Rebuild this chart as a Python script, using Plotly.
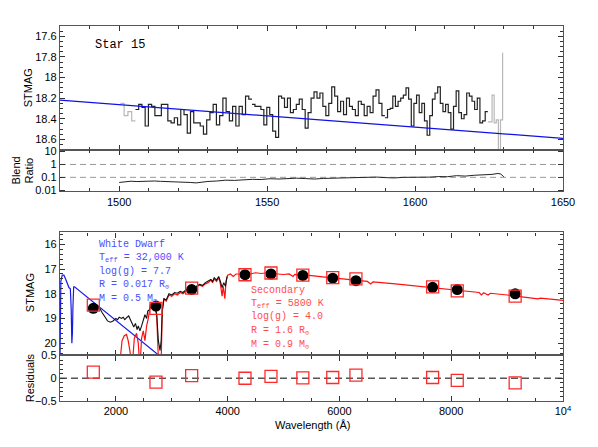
import numpy as np
import plotly.graph_objects as go

# ---- top panel: UV spectrum of Star 15 (STMAG, binned) ----
gray_left = [18.25, 18.37, 18.33, 18.42]
black_a = [18.31, 18.26, 18.29, 18.47, 18.26, 18.28, 18.37, 18.37, 18.26, 18.26, 18.42, 18.44,
           18.39, 18.46, 18.31, 18.36, 18.54, 18.33, 18.44, 18.44, 18.47, 18.55, 18.41, 18.34,
           18.26, 18.46, 18.37, 18.20, 18.33, 18.42, 18.28, 18.47, 18.28, 18.36, 18.18, 18.21]
black_b = [18.26, 18.28, 18.28, 18.31, 18.46, 18.29, 18.36, 18.52, 18.58, 18.18, 18.20, 18.29,
           18.20, 18.34, 18.31, 18.26, 18.21, 18.31, 18.49, 18.34, 18.20, 18.14, 18.20, 18.15,
           18.28, 18.37, 18.25, 18.09, 18.18, 18.33, 18.23, 18.36, 18.20, 18.28, 18.31, 18.37,
           18.23, 18.26, 18.37, 18.28, 18.34, 18.18, 18.12, 18.25, 18.37]
black_c = [18.39, 18.31, 18.30, 18.18, 18.28, 18.23, 18.20, 18.17, 18.10, 18.21, 18.47, 18.25,
           18.17, 18.34, 18.25, 18.42, 18.56, 18.37, 18.21, 18.15, 18.09, 18.25, 18.33, 18.26,
           18.34, 18.50, 18.28, 18.13, 18.34, 18.40, 18.36, 18.15, 18.18, 18.23, 18.31, 18.20,
           18.44, 18.42, 18.33]
gray_right = [18.43, 18.43, 18.17, 18.44, 18.41, 18.75, 18.41, 17.76]
seg_bounds = [1500.4, 1505.5, 1544.9, 1589.8, 1624.6, 1630.3]
uv_fit_wave = [1480, 1650]
uv_fit_mag = [18.22, 18.59]

# blend ratio
ratio_wave = [1500, 1502, 1504, 1506, 1508, 1510, 1512, 1514, 1516, 1518, 1520, 1522, 1524, 1526,
              1528, 1530, 1533, 1536, 1539, 1542, 1545, 1548, 1551, 1554, 1557, 1560, 1563, 1566,
              1569, 1572, 1575, 1578, 1581, 1584, 1587, 1590, 1593, 1596, 1599, 1602, 1605, 1608,
              1611, 1614, 1617, 1620, 1623, 1626, 1628, 1629, 1630]
ratio = [0.040, 0.045, 0.050, 0.047, 0.050, 0.048, 0.052, 0.049, 0.047, 0.050, 0.046, 0.044,
         0.040, 0.037, 0.043, 0.048, 0.052, 0.060, 0.058, 0.065, 0.070, 0.068, 0.078, 0.074,
         0.080, 0.086, 0.080, 0.074, 0.082, 0.085, 0.082, 0.090, 0.088, 0.092, 0.105, 0.095,
         0.090, 0.100, 0.098, 0.110, 0.104, 0.115, 0.112, 0.135, 0.125, 0.145, 0.150, 0.170,
         0.200, 0.180, 0.110]

# ---- bottom panel: SED ----
wd_wave = [1000, 1005, 1015, 1040, 1070, 1100, 1130, 1160, 1185, 1200, 1212, 1222, 1232, 1245,
           1260, 1400, 1600, 1800, 2000, 2200, 2400, 2600, 2800]
wd_mag = [20.8, 18.5, 17.5, 17.25, 17.25, 17.4, 17.6, 17.75, 17.8, 18.6, 20.0, 19.6, 18.5, 17.72,
          17.72, 17.98, 18.35, 18.72, 19.08, 19.45, 19.82, 20.18, 20.55]

sec_wave = [2000, 2080, 2110, 2150, 2190, 2220, 2250, 2290, 2330, 2370, 2400, 2430, 2460, 2490,
            2520, 2550, 2580, 2600, 2620, 2650, 2670, 2700, 2730, 2760, 2790, 2810, 2830, 2860,
            2900, 2950, 3000, 3050, 3100, 3150, 3200, 3250, 3300, 3350, 3400, 3450, 3500, 3550,
            3600, 3650, 3700, 3730, 3760, 3800, 3840, 3870, 3900, 3920, 3950, 3970, 4000, 4050,
            4100, 4150, 4200, 4250, 4300, 4350, 4400, 4500, 4600, 4700, 4800, 4900, 5000, 5100,
            5170, 5200, 5300, 5500, 5700, 5900, 6100, 6300, 6500, 6560, 6600, 7000, 7500, 7700,
            8000, 8300, 8500, 8540, 8580, 8660, 8700, 9000, 9200, 9500, 9550, 9600, 10000]
sec_mag = [21.0, 20.6, 19.9, 19.7, 19.65, 19.9, 20.3, 21.0, 19.8, 19.6, 20.0, 21.0, 19.8, 19.5,
           19.9, 19.3, 19.0, 18.7, 18.4, 18.6, 18.4, 18.5, 18.9, 20.6, 21.0, 20.8, 18.7, 18.2,
           18.3, 18.05, 18.1, 18.0, 18.05, 17.95, 18.0, 17.9, 17.85, 17.8, 17.85, 17.7, 17.65, 17.7,
           17.6, 17.55, 17.45, 17.55, 17.4, 17.5, 17.35, 17.6, 18.1, 17.7, 18.2, 17.5, 17.25, 17.2,
           17.3, 17.2, 17.2, 17.25, 17.35, 17.25, 17.2, 17.15, 17.18, 17.15, 17.18, 17.2, 17.22, 17.2,
           17.3, 17.22, 17.23, 17.27, 17.32, 17.36, 17.41, 17.46, 17.5, 17.6, 17.52, 17.6, 17.71, 17.76,
           17.83, 17.9, 17.95, 18.05, 17.96, 18.05, 17.98, 18.05, 18.1, 18.17, 18.21, 18.18, 18.27]

obs_wave = [1650, 1700, 1750, 1800, 1850, 1900, 1950, 2000, 2030, 2060, 2100, 2130, 2160, 2200,
            2230, 2260, 2290, 2320, 2350, 2380, 2400, 2430, 2460, 2490, 2520, 2550, 2570, 2600,
            2620, 2650, 2680, 2700, 2730, 2760, 2790, 2810, 2830, 2860, 2900, 2950, 3000, 3050,
            3100, 3150, 3200, 3250, 3300, 3350, 3400, 3450, 3500, 3550, 3600, 3650, 3700, 3730,
            3760, 3800, 3840, 3870, 3900, 3930, 3960, 3990]
obs_mag = [18.44, 18.55, 18.75, 18.95, 19.1, 19.15, 19.1, 19.0, 19.05, 18.95, 19.0, 18.95, 19.05,
           18.95, 18.9, 19.05, 19.2, 19.35, 19.2, 19.45, 19.3, 19.5, 19.3, 19.1, 18.85, 19.0, 18.7,
           18.65, 18.5, 18.6, 18.45, 18.55, 18.8, 19.9, 20.3, 19.9, 18.7, 18.2, 18.25, 18.0, 18.05,
           17.95, 17.98, 17.9, 17.95, 17.85, 17.8, 17.75, 17.8, 17.68, 17.62, 17.66, 17.55, 17.5,
           17.42, 17.5, 17.35, 17.45, 17.3, 17.5, 17.75, 17.55, 17.7, 17.3]

phot_wave = [1596, 2717, 3356, 4310, 4775, 5345, 5880, 6295, 7667, 8108, 9144]
phot_mag = [18.59, 18.50, 17.83, 17.23, 17.20, 17.26, 17.37, 17.47, 17.74, 17.83, 18.00]
model_mag = [18.46, 18.59, 17.77, 17.23, 17.16, 17.25, 17.35, 17.40, 17.72, 17.88, 18.10]
resid = [0.135, -0.087, 0.056, 0.0, 0.04, 0.01, 0.016, 0.07, 0.016, -0.048, -0.10]

wd_text = ["White Dwarf", "T<sub>eff</sub> = 32,000 K", "log(g) = 7.7",
           "R = 0.017 R<sub>\u2299</sub>", "M = 0.5 M<sub>\u2299</sub>"]
sec_text = ["Secondary", "T<sub>eff</sub> = 5800 K", "log(g) = 4.0",
            "R = 1.6 R<sub>\u2299</sub>", "M = 0.9 M<sub>\u2299</sub>"]

MONO = "Liberation Mono, Courier New, monospace"
SANS = "Liberation Sans, Arial, sans-serif"


def steps(start, end, vals, close=True):
    edges = np.linspace(start, end, len(vals) + 1)
    if close:
        return edges, list(vals) + [vals[-1]]
    return edges[:-1], list(vals)


fig = go.Figure()

# top spectrum
segs = [(gray_left, "#b8b8b8", True), (black_a, "#222", True), (black_b, "#222", True),
        (black_c, "#222", True), (gray_right, "#b8b8b8", False)]
for i, (vals, col, close) in enumerate(segs):
    x, y = steps(seg_bounds[i], seg_bounds[i + 1], vals, close)
    fig.add_trace(go.Scatter(x=x, y=y, mode="lines", line=dict(color=col, width=1.2, shape="hv"),
                             xaxis="x", yaxis="y"))
fig.add_trace(go.Scatter(x=uv_fit_wave, y=uv_fit_mag, mode="lines",
                         line=dict(color="#1010e8", width=1.3), xaxis="x", yaxis="y"))

# blend ratio
for lvl in [1, 0.1]:
    fig.add_trace(go.Scatter(x=[1480, 1650], y=[lvl, lvl], mode="lines",
                             line=dict(color="#999", width=1, dash="6px,4px"), xaxis="x2", yaxis="y2"))
fig.add_trace(go.Scatter(x=ratio_wave, y=ratio, mode="lines", line=dict(color="#222", width=1),
                         xaxis="x2", yaxis="y2"))

# SED
fig.add_trace(go.Scatter(x=wd_wave, y=wd_mag, mode="lines", line=dict(color="#1a1ae6", width=1.2),
                         xaxis="x3", yaxis="y3"))
fig.add_trace(go.Scatter(x=sec_wave, y=sec_mag, mode="lines", line=dict(color="#ff1010", width=1.2),
                         xaxis="x3", yaxis="y3"))
fig.add_trace(go.Scatter(x=obs_wave, y=obs_mag, mode="lines", line=dict(color="#111", width=1.1),
                         xaxis="x3", yaxis="y3"))
fig.add_trace(go.Scatter(x=phot_wave, y=phot_mag, mode="markers",
                         marker=dict(color="black", size=11, line=dict(width=0)), xaxis="x3", yaxis="y3"))
fig.add_trace(go.Scatter(x=phot_wave, y=model_mag, mode="markers",
                         marker=dict(symbol="square-open", color="#ff2a2a", size=12, line=dict(width=1.3)),
                         xaxis="x3", yaxis="y3"))

# residuals
fig.add_trace(go.Scatter(x=[1000, 10000], y=[0, 0], mode="lines",
                         line=dict(color="#555", width=1.5, dash="7px,4px"), xaxis="x4", yaxis="y4"))
fig.add_trace(go.Scatter(x=phot_wave, y=resid, mode="markers",
                         marker=dict(symbol="square-open", color="#ff2a2a", size=12, line=dict(width=1.3)),
                         xaxis="x4", yaxis="y4"))

ax = dict(showline=True, linecolor="#555", linewidth=1.3, mirror="allticks", ticks="inside",
          ticklen=5, tickcolor="#333", tickwidth=1, showgrid=False, zeroline=False,
          tickfont=dict(family=SANS, size=11, color="black"))

# page has an 8px body margin; plot area wanted at page x 60..563, y 22..401
H = 379.0
def dom(top_px, bot_px):
    return [(401 - bot_px) / H, (401 - top_px) / H]

fig.update_layout(
    width=582, height=431, margin=dict(l=52, r=27, t=14, b=38),
    plot_bgcolor="white", paper_bgcolor="white", showlegend=False,
    xaxis=dict(ax, range=[1480, 1650], anchor="y", showticklabels=False,
               tickvals=[1500, 1550, 1600, 1650],
               minor=dict(ticks="inside", dtick=10, tick0=1480, ticklen=3, tickcolor="#333")),
    yaxis=dict(ax, range=[18.7, 17.5], domain=dom(22, 147), anchor="x",
               tickvals=[17.6, 17.8, 18.0, 18.2, 18.4, 18.6],
               ticktext=["17.6", "17.8", "18", "18.2", "18.4", "18.6"],
               minor=dict(ticks="inside", dtick=0.05, ticklen=3, tickcolor="#333")),
    xaxis2=dict(ax, range=[1480, 1650], anchor="y2", matches="x",
                tickvals=[1500, 1550, 1600, 1650],
                minor=dict(ticks="inside", dtick=10, tick0=1480, ticklen=3, tickcolor="#333")),
    yaxis2=dict(ax, type="log", range=[-2.08, 1.15], domain=dom(147, 189), anchor="x2",
                tickvals=[0.01, 0.1, 1, 10], ticktext=["0.01", "0.1", "1", "10"]),
    xaxis3=dict(ax, range=[1000, 10000], anchor="y3", showticklabels=False,
                tickvals=[2000, 4000, 6000, 8000, 10000],
                minor=dict(ticks="inside", dtick=500, tick0=1000, ticklen=3, tickcolor="#333")),
    yaxis3=dict(ax, range=[20.5, 15.52], domain=dom(230.7, 355), anchor="x3",
                tickvals=[16, 17, 18, 19, 20],
                minor=dict(ticks="inside", dtick=0.2, ticklen=3, tickcolor="#333")),
    xaxis4=dict(ax, range=[1000, 10000], anchor="y4", matches="x3",
                tickvals=[2000, 4000, 6000, 8000, 10000],
                ticktext=["2000", "4000", "6000", "8000", "10<sup>4</sup>"],
                minor=dict(ticks="inside", dtick=500, tick0=1000, ticklen=3, tickcolor="#333")),
    yaxis4=dict(ax, range=[-0.5, 0.5], domain=dom(355, 401), anchor="x4",
                tickvals=[-0.5, 0, 0.5], ticktext=["\u22120.5", "0", "0.5"],
                minor=dict(ticks="inside", dtick=0.1, ticklen=3, tickcolor="#333")),
)

ann = []
def px_x(px):
    return (px - 60) / 503.0
def px_y(py):
    return (401 - py) / H

title_font = dict(family=SANS, size=11, color="black")
ann.append(dict(text="STMAG", x=px_x(28), y=px_y(85), textangle=-90, font=title_font))
ann.append(dict(text="Blend", x=px_x(16), y=px_y(168), textangle=-90, font=title_font))
ann.append(dict(text="Ratio", x=px_x(29), y=px_y(168), textangle=-90, font=title_font))
ann.append(dict(text="STMAG", x=px_x(30), y=px_y(292), textangle=-90, font=title_font))
ann.append(dict(text="Residuals", x=px_x(30), y=px_y(378), textangle=-90, font=title_font))
ann.append(dict(text="Wavelength (\u00c5)", x=px_x(312), y=px_y(425), font=title_font))
for a in ann:
    a.update(xref="paper", yref="paper", showarrow=False, xanchor="center", yanchor="middle")

fig.add_annotation(text="Star 15", x=1491, y=17.68, xref="x", yref="y", showarrow=False,
                   xanchor="left", yanchor="middle", font=dict(family=MONO, size=12, color="black"))

wd_y = [16.01, 16.57, 17.09, 17.65, 18.21]
sec_y = [17.86, 18.42, 18.94, 19.51, 20.07]
for t, yy in zip(wd_text, wd_y):
    fig.add_annotation(text=t, x=1662, y=yy, xref="x3", yref="y3", showarrow=False,
                       xanchor="left", yanchor="middle", font=dict(family=MONO, size=10, color="#4d4dff"))
for t, yy in zip(sec_text, sec_y):
    fig.add_annotation(text=t, x=4381, y=yy, xref="x3", yref="y3", showarrow=False,
                       xanchor="left", yanchor="middle", font=dict(family=MONO, size=10, color="#ff4d4d"))
for a in ann:
    fig.add_annotation(**a)

fig.write_html("out.html")
